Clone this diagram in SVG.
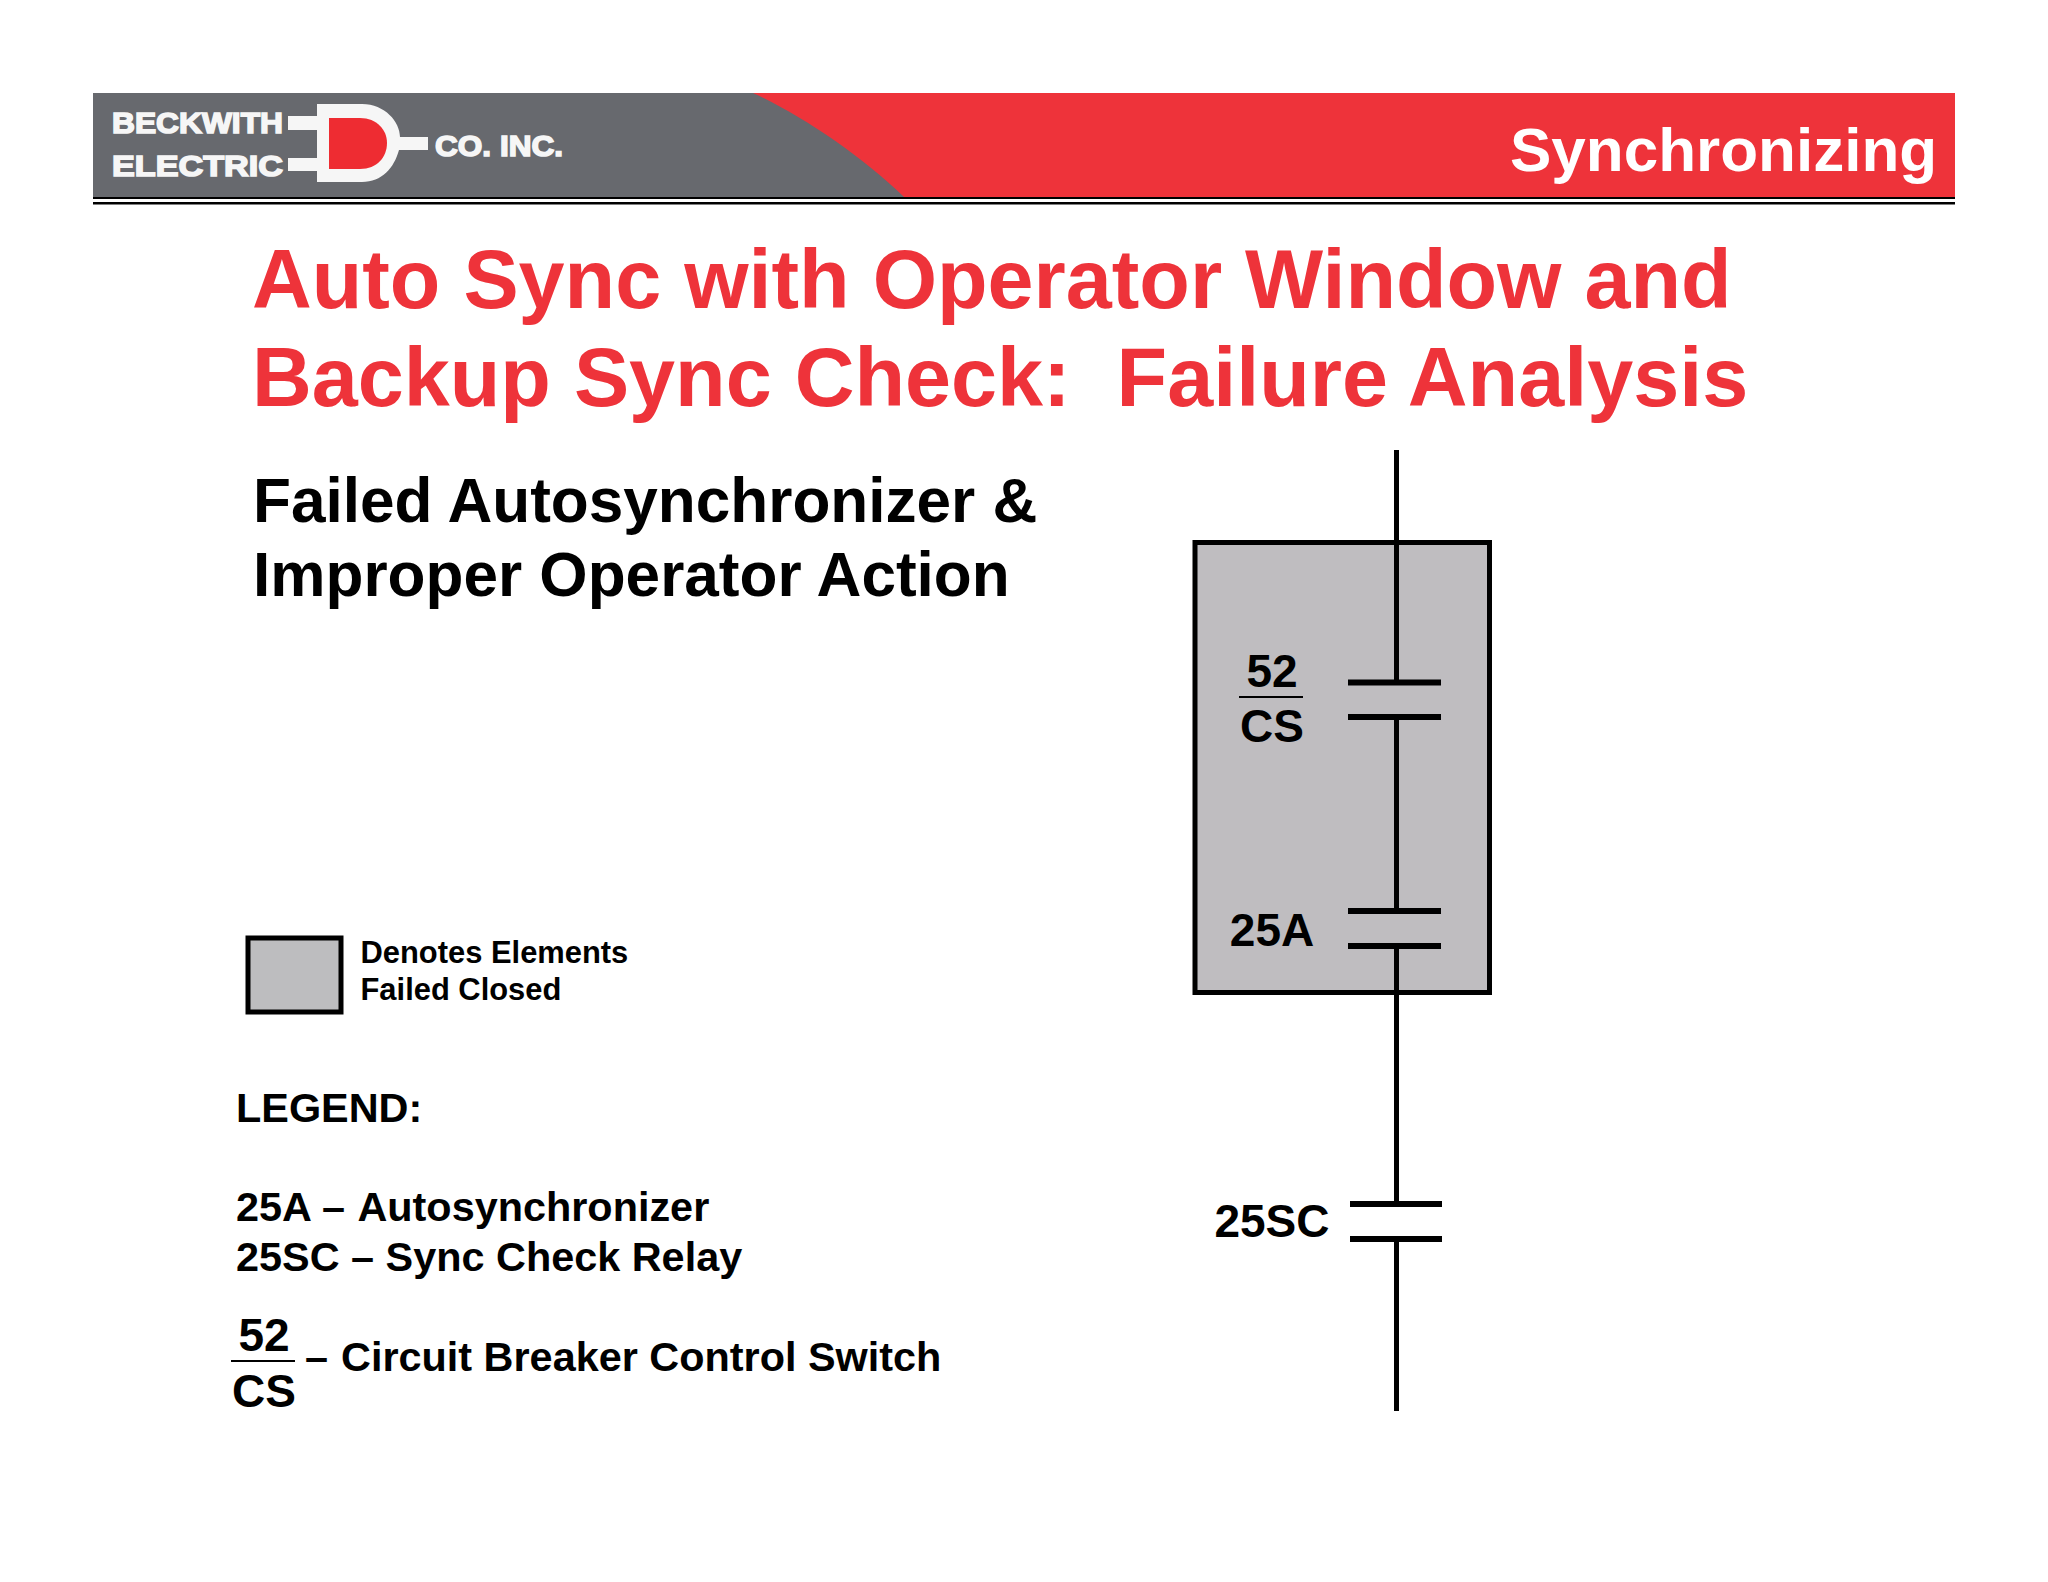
<svg xmlns="http://www.w3.org/2000/svg" width="2048" height="1582" viewBox="0 0 2048 1582">
<style>
text{font-family:"Liberation Sans",Arial,sans-serif;font-weight:700;fill:#000}
.title{font-size:82.75px;fill:#ee333a;white-space:pre}
.sub{font-size:62.1px}
.leg{font-size:41.4px}
.small{font-size:30.9px}
.lab{font-size:46px}
.logo{font-size:30px;fill:#f6f6f6;stroke:#f6f6f6;stroke-width:1.6}
.wire{stroke:#000;stroke-width:5;fill:none}
.plate{stroke:#000;stroke-width:6;fill:none}
.thin{stroke:#000;stroke-width:2;fill:none}
.failed{fill:#bfbdc0;stroke:#000;stroke-width:5}
</style>
<rect width="2048" height="1582" fill="#fff"/>
<g id="header">
<rect x="93" y="93" width="1862" height="104" fill="#ee333a"/>
<path d="M93 93H753C803 116 860 155 904 197H93Z" fill="#67696e"/>
<rect x="93" y="197" width="1862" height="2" fill="#000"/>
<rect x="93" y="202" width="1862" height="2.5" fill="#000"/>
<text x="1510" y="171" style="font-size:62px;fill:#fff">Synchronizing</text>
</g>
<g id="logo">
<text class="logo" x="112" y="133" textLength="171" lengthAdjust="spacingAndGlyphs">BECKWITH</text>
<text class="logo" x="112" y="175.500" textLength="171" lengthAdjust="spacingAndGlyphs">ELECTRIC</text>
<text class="logo" x="435" y="155.500" textLength="128" lengthAdjust="spacingAndGlyphs">CO. INC.</text>
<path d="M288 116H317V104H362C385 104 400 122 400 137H428V150H399C394 168 382 182 362 182H317V171H288V158H317V130H288Z" fill="#f6f6f6"/>
<path d="M329 118H360C377 118 387 130 387 143C387 157 377 169 360 169H329Z" fill="#ee2c32"/>
</g>
<g id="titles">
<text class="title" x="252" y="308" xml:space="preserve">Auto Sync with Operator Window and</text>
<text class="title" x="252" y="406" xml:space="preserve">Backup Sync Check:  Failure Analysis</text>
<text class="sub" x="253" y="522">Failed Autosynchronizer &amp;</text>
<text class="sub" x="253" y="596">Improper Operator Action</text>
</g>
<g id="failed-box">
<rect class="failed" x="1195" y="542.5" width="294.5" height="450"/>
</g>
<g id="connectors">
<path class="wire" d="M1396.5 450V682M1396.5 717V911M1396.5 946V1203M1396.5 1238V1411"/>
</g>
<g id="contact-52cs">
<path class="plate" d="M1348 682.5H1441M1348 717H1441"/>
<text class="lab" x="1272" y="687" text-anchor="middle">52</text>
<path class="thin" d="M1239 697H1303"/>
<text class="lab" x="1272" y="742" text-anchor="middle">CS</text>
</g>
<g id="contact-25a">
<path class="plate" d="M1348 911H1441M1348 946H1441"/>
<text class="lab" x="1272" y="946" text-anchor="middle">25A</text>
</g>
<g id="contact-25sc">
<path class="plate" d="M1350 1204H1442M1350 1239H1442"/>
<text class="lab" x="1272" y="1237" text-anchor="middle">25SC</text>
</g>
<g id="key">
<rect x="248" y="938" width="93" height="74" fill="#bdbdbf" stroke="#000" stroke-width="5"/>
<text class="small" x="360.500" y="963">Denotes Elements</text>
<text class="small" x="360.500" y="1000">Failed Closed</text>
</g>
<g id="legend">
<text class="leg" x="236" y="1122">LEGEND:</text>
<text class="leg" x="236" y="1221">25A –<tspan dx="2.500"> Autosynchronizer</tspan></text>
<text class="leg" x="236" y="1271">25SC – Sync Check Relay</text>
<text class="lab" x="264" y="1351" text-anchor="middle">52</text>
<path class="thin" d="M231 1361H295"/>
<text class="lab" x="264" y="1407" text-anchor="middle">CS</text>
<text class="leg" x="305" y="1371">–<tspan dx="1.500"> Circuit Breaker Control Switch</tspan></text>
</g>
</svg>
